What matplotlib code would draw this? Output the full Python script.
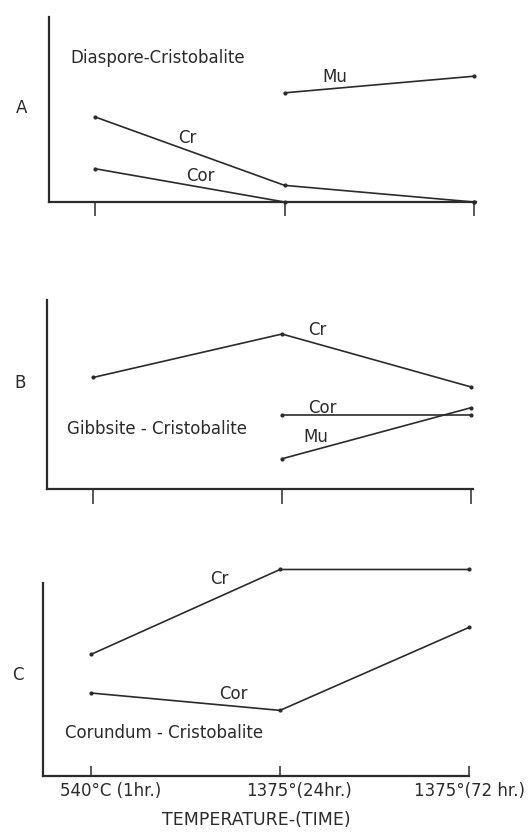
import numpy as np
import matplotlib
matplotlib.use('Agg')
import matplotlib.pyplot as plt

# data: relative intensities (axis height = 100)
temps = ['540°C (1hr.)', '1375°(24hr.)', '1375°(72 hr.)']
x = np.arange(3)

mu_a = [np.nan, 59, 68]
cr_a = [46, 9, 0]
cor_a = [18, 0, 0]

cr_b = [59, 82, 54]
cor_b = [np.nan, 39, 39]
mu_b = [np.nan, 16, 43]

cr_c = [63, 107, 107]
cor_c = [43, 34, 77]

W, H = 532, 839
ink = '#2b2b2b'
plt.rcParams['font.family'] = 'DejaVu Sans'

fig = plt.figure(figsize=(W / 100, H / 100), dpi=100)


def px(xp, yp):
    return xp / W, 1 - yp / H


def make_axes(left, right, bottom, top, tick0, tick_sp):
    ax = fig.add_axes([left / W, 1 - bottom / H, (right - left) / W, (bottom - top) / H])
    ax.set_xlim(-(tick0 - left) / tick_sp, (right - tick0) / tick_sp)
    ax.set_ylim(0, 100)
    for s in ['top', 'right']:
        ax.spines[s].set_visible(False)
    for s in ['left', 'bottom']:
        ax.spines[s].set_linewidth(1.6)
        ax.spines[s].set_color(ink)
    ax.set_yticks([])
    ax.set_xticks(x)
    ax.patch.set_alpha(0)
    return ax


def draw(ax, y):
    ax.plot(x, y, color=ink, lw=1.2, marker='o', ms=2, clip_on=False)


# panel A
axA = make_axes(49, 476, 202, 17, 95, 189.5)
axA.tick_params(axis='x', direction='out', length=10, width=1.1, color=ink, labelbottom=False)
draw(axA, mu_a)
draw(axA, cr_a)
draw(axA, cor_a)

# panel B
axB = make_axes(47, 473, 489, 300, 93, 189)
axB.tick_params(axis='x', direction='out', length=11, width=1.1, color=ink, labelbottom=False)
draw(axB, cr_b)
draw(axB, cor_b)
draw(axB, mu_b)

# panel C
axC = make_axes(43, 469, 776, 583, 91, 189)
axC.tick_params(axis='x', direction='in', length=7, width=1.1, color=ink, labelbottom=False)
draw(axC, cr_c)
draw(axC, cor_c)
# tick labels sit a bit right of their ticks in the original
for xi, t, dx in zip(x, temps, [14, 14, 0]):
    axC.annotate(t, xy=(xi, 0), xycoords=('data', 'axes fraction'),
                 xytext=(dx, -11), textcoords='offset points',
                 ha='center', va='center', fontsize=12, color=ink)
axC.annotate('TEMPERATURE-(TIME)', xy=(0.5, 0), xycoords='axes fraction',
             xytext=(0, -32), textcoords='offset points',
             ha='center', va='center', fontsize=12.5, color=ink)

fs = 12
labels = [
    ('A', 16, 108), ('Diaspore-Cristobalite', 70, 58), ('Mu', 322, 77),
    ('Cr', 178, 138), ('Cor', 186, 176),
    ('B', 14, 383), ('Cr', 308, 330), ('Cor', 308, 408),
    ('Gibbsite - Cristobalite', 67, 429), ('Mu', 303, 437),
    ('C', 12, 675), ('Cr', 210, 579), ('Cor', 219, 694),
    ('Corundum - Cristobalite', 65, 733),
]
for t, xp, yp in labels:
    fig.text(*px(xp, yp), t, fontsize=fs, color=ink, ha='left', va='center')

fig.savefig('out.png', dpi=100, facecolor='white')
